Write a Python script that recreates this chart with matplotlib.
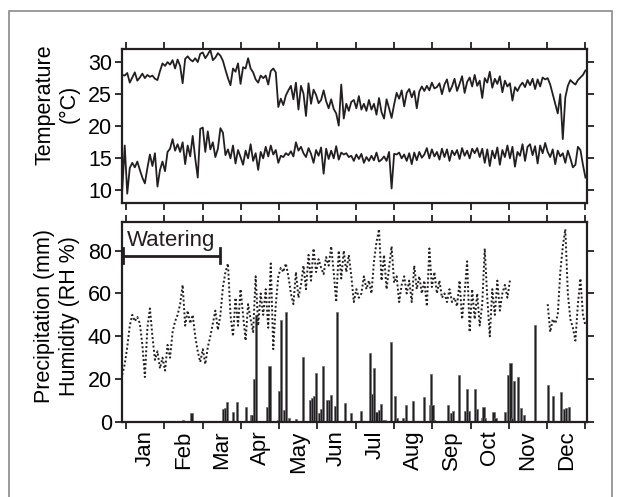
import numpy as np
import matplotlib.pyplot as plt
from matplotlib.patches import Rectangle

plt.rcParams['font.family'] = ['Liberation Sans', 'DejaVu Sans']
plt.rcParams['font.size'] = 15

# daily series sampled every second day (day of year)
days = np.arange(-3, 366, 2)

t_max = [28.0, 27.9, 28.3, 26.8, 27.6, 28.4, 27.1, 27.6, 28.2, 27.5,
         28.0, 27.7, 27.9, 27.4, 27.2, 28.6, 29.8, 29.4, 30.0, 29.6,
         30.3, 29.0, 30.4, 29.4, 26.7, 30.5, 30.9, 30.4, 30.1, 30.6,
         30.0, 31.3, 31.5, 30.6, 31.2, 31.9, 30.3, 30.7, 31.4, 31.0,
         30.2, 28.8, 27.5, 26.4, 29.0, 28.5, 29.8, 26.6, 29.2, 29.0,
         30.6, 29.0, 28.4, 27.3, 26.8, 27.9, 27.5, 27.9, 26.5, 28.6,
         29.0, 28.4, 23.0, 24.3, 23.3, 24.8, 25.6, 26.3, 24.2, 26.8,
         22.6, 26.3, 25.1, 21.6, 26.7, 23.5, 25.7, 24.9, 23.6, 24.1,
         25.6, 23.9, 22.8, 24.2, 22.7, 22.0, 20.1, 26.5, 21.2, 23.5,
         22.4, 23.8, 24.1, 22.8, 24.7, 22.6, 23.5, 22.4, 24.1, 22.6,
         23.5, 21.8, 24.4, 22.2, 21.2, 24.2, 22.8, 21.3, 23.4, 25.2,
         24.3, 25.6, 23.1, 25.2, 25.8, 24.5, 25.5, 22.8, 25.4, 26.2,
         25.5, 26.3, 25.6, 26.8, 25.9, 26.1, 26.7, 25.0, 26.5, 27.3,
         25.4, 26.2, 27.4, 25.5, 26.6, 27.8, 25.2, 26.9, 27.6, 26.2,
         28.0, 26.3, 27.1, 24.4, 27.5, 26.8, 28.5, 26.0, 27.4, 26.6,
         27.8, 25.3, 27.1, 26.2, 26.7, 24.0, 26.1, 25.5, 26.3, 26.8,
         26.1, 27.2, 26.4, 27.4, 25.8, 27.3, 26.2, 27.6, 27.3, 27.5,
         26.5, 25.0, 23.5, 22.0, 25.0, 18.0, 24.5, 26.3, 27.2, 26.8,
         26.5, 27.2, 27.6, 28.0, 28.7]

t_min = [10.0, 17.0, 9.5, 13.5, 14.3, 13.6, 14.5, 13.2, 12.0, 11.1,
         13.5, 15.6, 13.8, 15.8, 10.6, 13.2, 14.5, 13.0, 16.0, 16.5,
         18.0, 16.2, 17.2, 16.0, 17.5, 14.1, 17.0, 15.3, 18.5, 15.0,
         12.0, 19.6, 19.8, 16.0, 19.2, 16.4, 17.5, 15.2, 16.5, 19.7,
         19.0, 15.5, 16.4, 15.0, 17.0, 14.2, 16.3, 15.2, 14.0, 16.2,
         15.0, 17.2, 14.6, 15.8, 13.2, 16.0, 15.0, 16.8, 15.3, 17.0,
         15.6, 16.3, 14.3, 15.4, 15.2, 15.8, 15.5, 16.1, 15.3, 17.5,
         16.2, 16.8, 15.8, 15.2, 16.6, 15.7, 14.3, 16.3, 15.4, 16.7,
         12.6, 16.5, 14.9, 16.2, 15.0, 16.9, 14.8, 15.9, 15.6, 15.8,
         15.2, 15.4, 14.6, 15.6, 14.9, 15.7, 14.3, 15.2, 14.6, 15.4,
         14.7, 15.9, 14.5, 14.8, 15.3, 14.6, 16.0, 10.3, 15.7, 15.6,
         15.9, 15.0, 15.6, 14.6, 15.8, 14.1, 15.9, 14.7, 16.0, 15.1,
         15.6, 16.6, 15.0, 16.4, 15.3, 16.0, 14.8, 16.5, 15.2, 16.4,
         14.6, 16.2, 15.5, 16.3, 14.9, 16.6, 15.4, 16.2, 15.0, 16.5,
         15.8, 16.6, 15.2, 16.5, 14.3, 16.4, 13.8, 16.2, 15.0, 16.7,
         14.0, 16.3, 15.2, 17.0, 15.0, 16.8, 13.7, 16.0, 15.4, 17.2,
         14.6, 16.8, 17.2, 15.5, 16.9, 14.2, 17.0, 15.8, 17.4, 16.0,
         15.2, 16.4, 14.1, 16.2, 15.3, 15.8, 14.3, 16.2, 15.0, 13.6,
         14.0, 16.8, 16.3, 14.0, 12.0]

nan = np.nan
humidity = [22, 27, 35, 45, 50, 47, 49, 46, 36, 21,
            44, 53, 40, 29, 33, 25, 30, 24, 36, 30,
            42, 47, 50, 55, 64, 45, 52, 46, 50, 40,
            33, 28, 34, 27, 35, 40, 46, 52, 43, 50,
            63, 70, 74, 50, 40, 58, 45, 62, 50, 38,
            55, 48, 42, 68, 45, 60, 50, 62, 44, 74,
            34, 55, 68, 72, 70, 74, 68, 60, 55, 70,
            58, 64, 73, 62, 78, 66, 81, 70, 76, 72,
            69, 77, 73, 82, 70, 56, 80, 67, 80, 70,
            78, 68, 56, 62, 58, 60, 68, 62, 66, 60,
            75, 84, 90, 66, 78, 62, 72, 82, 65, 68,
            56, 64, 68, 60, 66, 56, 73, 62, 68, 60,
            66, 54, 81, 63, 70, 60, 66, 58, 60, 56,
            62, 56, 58, 54, 66, 48, 60, 75, 42, 62,
            48, 60, 45, 55, 81, 58, 40, 62, 50, 66,
            52, 60, 64, 58, 66, nan, nan, nan, nan, nan,
            nan, nan, nan, nan, nan, nan, nan, nan, nan, 55,
            42, 48, 46, 50, 70, 82, 90, 60, 48, 44,
            38, 55, 67, 50, 45]

rain_day = [18, 45, 52, 77, 78.5, 80, 85, 88, 92, 95,
            99.5, 100.5, 101.7, 103, 111.7, 114, 121, 122, 123.4, 125.5,
            127.3, 129.5, 135.3, 140.6, 145.9, 147.5, 149.3, 150.7, 153, 154.6,
            156.7, 159.5, 161, 163, 166, 167.8, 173.7, 179, 187, 194,
            195.5, 197.2, 199, 200.7, 202.3, 204, 206, 210.2, 213.4, 215,
            220, 222.7, 228.2, 236.7, 241.5, 242.5, 243.5, 245, 247.5, 255.8,
            258, 259.5, 264.8, 269.5, 271, 272.5, 277, 279, 283, 284,
            285.5, 292, 293.5, 301, 303.4, 305.5, 306.8, 308.4, 311.6, 313.7,
            316, 324.9, 329, 332, 335.5, 339.4, 345.8, 347.9, 349.3, 352]
rain_mm = [0.5, 1, 4, 6, 6.5, 9.5, 4.5, 9.5, 0.5, 7,
           3.5, 3.5, 20, 50, 7, 26, 1, 14.5, 47.5, 5.5,
           51.5, 2, 1.5, 30.5, 10.5, 11, 12, 23, 4, 6,
           26, 10.5, 10.5, 12.5, 7.5, 51.5, 9, 4, 5, 32,
           13, 25, 4.5, 5.5, 8.5, 1, 1, 37.5, 12, 2,
           2, 8, 10, 11.5, 8, 22.5, 8, 1, 0.5, 8,
           4, 5, 22, 5, 15.5, 5, 15.5, 6, 2, 7,
           2, 4.5, 2, 4.5, 22, 27.5, 2, 19, 21, 6.5,
           3.5, 45.5, 0.5, 0.5, 17.5, 12, 14, 6, 6.5, 7]

months = ['Jan', 'Feb', 'Mar', 'Apr', 'May', 'Jun',
          'Jul', 'Aug', 'Sep', 'Oct', 'Nov', 'Dec']

ink = '#231f20'
bounds = np.linspace(0, 365, 13)
mids = (bounds[:-1] + bounds[1:]) / 2

fig = plt.figure(figsize=(6.21, 4.97), dpi=100)
ax1 = fig.add_axes([0.196, 0.591, 0.7496, 0.3099])
ax2 = fig.add_axes([0.196, 0.1509, 0.7496, 0.403])

ax1.plot(days, t_max, color=ink, lw=1.3)
ax1.plot(days, t_min, color=ink, lw=1.3)
ax1.set_ylim(8, 32)
ax1.set_yticks([10, 15, 20, 25, 30])

ax2.bar(rain_day, rain_mm, width=1.7, color=ink, edgecolor='#6d6e70', lw=0.5)
ax2.plot(days, humidity, color=ink, lw=1.4, ls=(0, (1, 1.2)))
ax2.set_ylim(0, 93.5)
ax2.set_yticks([0, 20, 40, 60, 80])

# watering period
ax2.plot([-3.4, 75], [77.5, 77.5], color=ink, lw=2.0, solid_capstyle='butt')
ax2.plot([-2.4, -2.4], [74, 81], color=ink, lw=2.0)
ax2.plot([75, 75], [74, 81], color=ink, lw=2.0)
ax2.text(1, 82, 'Watering', fontsize=16, va='baseline', color=ink)

for ax in (ax1, ax2):
    ax.set_xlim(-3.4, 366.4)
    ax.set_xticks(bounds)
    ax.set_xticklabels([])
    ax.tick_params(which='major', direction='out', length=5, width=1.3,
                   top=True, right=True, labelsize=15.5, pad=2, color=ink)
    for s in ax.spines.values():
        s.set_linewidth(1.6)
        s.set_color(ink)

ax2.set_xticks(mids, minor=True)
ax2.set_xticklabels(months, minor=True, rotation=90)
ax2.tick_params(axis='x', which='minor', length=0, pad=6, labelsize=16)

fig.text(0.0918, 0.79, 'Temperature\n(°C)', rotation=90, ha='center',
         va='center', fontsize=15.5, multialignment='center')
fig.text(0.0918, 0.364, 'Precipitation (mm)\nHumidity (RH %)', rotation=90,
         ha='center', va='center', fontsize=15.5, multialignment='center')

fig.patches.append(Rectangle((0.0137, -0.05), 0.9718, 1.028, transform=fig.transFigure,
                             fill=False, ec='#8a8a8a', lw=1.2))

fig.savefig('out.png', dpi=100)
